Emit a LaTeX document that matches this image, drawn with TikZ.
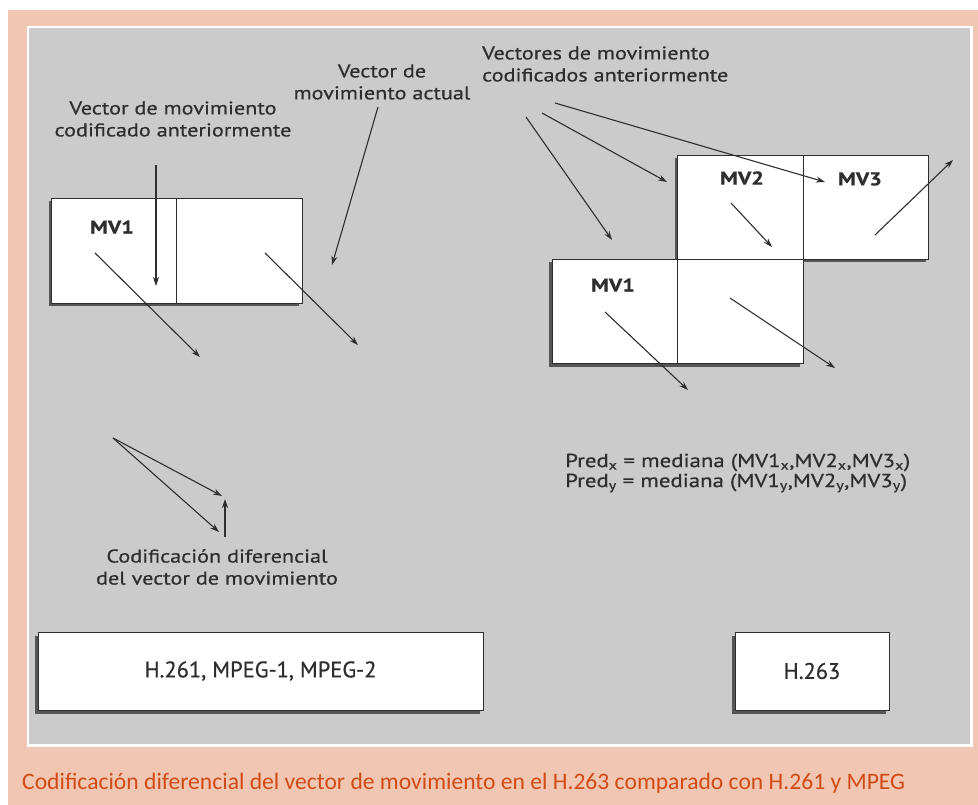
\documentclass[tikz,border=0pt]{standalone}
\usepackage{fontspec}
\setmainfont{PT Sans}
\newfontfamily\lblfont[FakeStretch=1.2,FakeBold=0.6]{PT Sans}
\newfontfamily\boxfont[FakeBold=0.6]{PT Sans}
\newfontfamily\capfont{Carlito}
\usetikzlibrary{arrows.meta}

\definecolor{framecol}{HTML}{F1C6B2}
\definecolor{panelcol}{HTML}{CBCBCB}
\definecolor{inkcol}{HTML}{2E2E2E}
\definecolor{shadecol}{HTML}{555555}
\definecolor{capcol}{HTML}{D14B16}

\pgfdeclarelayer{back}
\pgfdeclarelayer{shadow}
\pgfsetlayers{back,shadow,main}

\begin{document}
\begin{tikzpicture}[x=1pt,y=-1pt,
  vec/.style={draw=inkcol, line width=1.1pt, -{Stealth[length=9pt,width=6pt]}},
  cell/.style={draw=inkcol, fill=white, line width=0.8pt, inner sep=0pt, outer sep=0pt,
               minimum width=125.5pt, minimum height=104pt},
  stdbox/.style={draw=inkcol, fill=white, line width=0.8pt, inner sep=0pt, outer sep=0pt,
               minimum height=78pt, font=\boxfont\fontsize{22.5}{26}\selectfont, text=inkcol},
  mvtag/.style={font=\lblfont\bfseries\fontsize{18.5}{22}\selectfont, text=inkcol, inner sep=0pt},
  note/.style={font=\lblfont\fontsize{18.5}{22}\selectfont, text=inkcol, inner sep=0pt},
]
\useasboundingbox (0,0) rectangle (978,805);

% page, coloured frame, white mat and grey panel
\begin{pgfonlayer}{back}
  \fill[white] (0,0) rectangle (978,805);
  \fill[framecol] (8,10) rectangle (978,805);
  \fill[white] (27,26) rectangle (973,747);
  \fill[panelcol] (29,28) rectangle (970,744);
\end{pgfonlayer}

% --- left: H.261 / MPEG block pair
\node[cell, minimum height=105pt] (lA) at (114.5,250.5) {};
\node[cell, minimum height=105pt] (lB) at (239.5,250.5) {};
\node[mvtag] (lmv1) at (112,227) {MV1};

% --- right: H.263 neighbourhood
\node[cell] (rMV2) at (740.25,207) {};
\node[cell] (rMV3) at (865.75,207) {};
\node[cell] (rMV1) at (614.75,311) {};
\node[cell] (rCur) at (740.25,311) {};
\node[mvtag] (rmv2) at (742,178) {MV2};
\node[mvtag] (rmv3) at (860,179) {MV3};
\node[mvtag] (rmv1) at (613,285) {MV1};

% --- standard captions
\node[stdbox, minimum width=445pt] (sOld) at (260.5,671) {H.261, MPEG-1, MPEG-2};
\node[stdbox, minimum width=154pt] (sNew) at (812,671) {H.263};

% drop shadows under every box
\begin{pgfonlayer}{shadow}
  \foreach \b in {lA,lB,rMV2,rMV3,rMV1,rCur,sOld,sNew}
    \fill[shadecol] ([shift={(-3,3.5)}]\b.north west) rectangle ([shift={(-3,3.5)}]\b.south east);
\end{pgfonlayer}

% --- annotations
\node[note, align=center] (tPrev) at (173,119)
  {Vector de movimiento\\codificado anteriormente};
\node[note, align=center] (tCur) at (382,82)
  {Vector de\\movimiento actual};
\node[note, align=left, anchor=west] (tPrevs) at (482,64)
  {Vectores de movimiento\\codificados anteriormente};
\node[note, align=center] (tDiff) at (217,567)
  {Codificación diferencial\\del vector de movimiento};
\node[font=\lblfont\fontsize{19}{20}\selectfont, text=inkcol, align=left, anchor=west, inner sep=0pt] (tPred) at (565,473)
  {Pred\textsubscript{x} = mediana (MV1\textsubscript{x},MV2\textsubscript{x},MV3\textsubscript{x})\\
   Pred\textsubscript{y} = mediana (MV1\textsubscript{y},MV2\textsubscript{y},MV3\textsubscript{y})};

% caption below the panel
\node[font=\capfont\fontsize{23.6}{27}\selectfont, text=capcol, anchor=west, inner sep=0pt] (cap) at (22,783)
  {Codificación diferencial del vector de movimiento en el H.263 comparado con H.261 y MPEG};

% --- vector end points
\coordinate (a1s) at (156,165);  \coordinate (a1e) at (156,286);
\coordinate (a2s) at (95,253);   \coordinate (a2e) at (200,357);
\coordinate (a3s) at (265,253);  \coordinate (a3e) at (358,345);
\coordinate (a4s) at (378,107);  \coordinate (a4e) at (332,265);
\coordinate (r1s) at (526,117);  \coordinate (r1e) at (612,240);
\coordinate (r2s) at (542,113);  \coordinate (r2e) at (667,182);
\coordinate (r3s) at (555,103);  \coordinate (r3e) at (825,182);
\coordinate (r4s) at (731,203);  \coordinate (r4e) at (772,247);
\coordinate (r5s) at (875,235);  \coordinate (r5e) at (953,160);
\coordinate (r6s) at (605,312);  \coordinate (r6e) at (688,390);
\coordinate (r7s) at (730,298);  \coordinate (r7e) at (835,368);
\coordinate (dO)  at (113,438);
\coordinate (dP)  at (222,496);
\coordinate (dA)  at (219,532);
\coordinate (dBs) at (225,537);  \coordinate (dBe) at (225,499);

% --- vectors
\draw[vec] (a1s) -- (a1e);
\draw[vec] (a2s) -- (a2e);
\draw[vec] (a3s) -- (a3e);
\draw[vec] (a4s) -- (a4e);
\draw[vec] (r1s) -- (r1e);
\draw[vec] (r2s) -- (r2e);
\draw[vec] (r3s) -- (r3e);
\draw[vec] (r4s) -- (r4e);
\draw[vec] (r5s) -- (r5e);
\draw[vec] (r6s) -- (r6e);
\draw[vec] (r7s) -- (r7e);
\draw[vec] (dO) -- (dP);
\draw[vec] (dO) -- (dA);
\draw[vec] (dBs) -- (dBe);
\end{tikzpicture}
\end{document}
